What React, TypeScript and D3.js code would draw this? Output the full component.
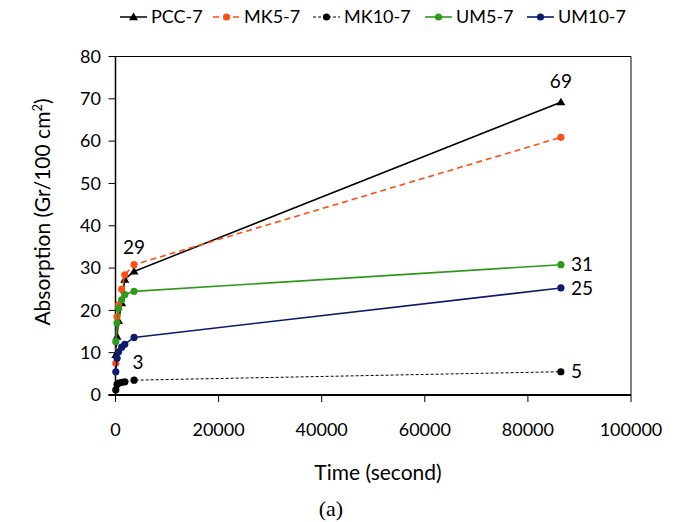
import React from "react";
import * as d3 from "d3";

const times = [60, 300, 600, 1200, 1800, 3600, 86400];
const seriesNames = ["PCC-7", "MK5-7", "MK10-7", "UM5-7", "UM10-7"];
const pcc = [9.5, 13.8, 17.5, 21.7, 27.3, 29.2, 69.2];
const mk5 = [7.5, 18.5, 21.3, 25.0, 28.4, 30.8, 60.9];
const mk10 = [1.2, 2.5, 2.8, 3.0, 3.1, 3.5, 5.5];
const um5 = [12.6, 17.0, 20.5, 22.5, 23.7, 24.5, 30.8];
const um10 = [5.5, 8.7, 10.2, 11.3, 12.0, 13.6, 25.3];
const xTicks = [0, 20000, 40000, 60000, 80000, 100000];
const yTicks = [0, 10, 20, 30, 40, 50, 60, 70, 80];
const annotations = [
  { t: 86400, v: 69.2, text: "69", dx: 0, dy: -21, anchor: "middle" },
  { t: 3600, v: 30.8, text: "29", dx: 0, dy: -17, anchor: "middle" },
  { t: 86400, v: 30.8, text: "31", dx: 10, dy: 0, anchor: "start" },
  { t: 86400, v: 25.3, text: "25", dx: 10, dy: 0, anchor: "start" },
  { t: 86400, v: 5.5, text: "5", dx: 10, dy: 0, anchor: "start" },
  { t: 3600, v: 3.5, text: "3", dx: 4, dy: -18, anchor: "middle" },
];

const styles = [
  { color: "#000000", dash: "", width: 1.5, marker: "tri" },
  { color: "#FF4E12", dash: "6,4", width: 1.6, marker: "circle" },
  { color: "#000000", dash: "3,2", width: 1, marker: "circle" },
  { color: "#2E9A1C", dash: "", width: 1.6, marker: "circle" },
  { color: "#0C1A6E", dash: "", width: 1.6, marker: "circle" },
];
const seriesValues = [pcc, mk5, mk10, um5, um10];
const legendX = [120, 213, 313, 425, 527];

const FONT = "Lato, 'Open Sans', sans-serif";

function Marker({ x, y, kind, color }: { x: number; y: number; kind: string; color: string }) {
  if (kind === "tri") {
    const s = 4.5;
    return <path d={`M${x},${y - s}L${x + s},${y + s * 0.7}L${x - s},${y + s * 0.7}Z`} fill={color} />;
  }
  return <circle cx={x} cy={y} r={3.6} fill={color} />;
}

export default function App() {
  const W = 677, H = 522;
  const x = d3.scaleLinear().domain([0, 100000]).range([115.5, 631]);
  const y = d3.scaleLinear().domain([0, 80]).range([395, 56.5]);
  const line = d3.line<number>().x((_, i) => x(times[i])).y((d) => y(d));

  return (
    <svg width={W} height={H} style={{ position: "absolute", left: 0, top: 0, background: "#fff" }}>
      {/* plot frame */}
      <line x1={x(0)} x2={x(100000)} y1={y(80)} y2={y(80)} stroke="#000" strokeWidth={1} />
      <line x1={x(100000)} x2={x(100000)} y1={y(80)} y2={y(0)} stroke="#000" strokeWidth={1} />
      {/* y axis */}
      <line x1={x(0)} x2={x(0)} y1={y(80)} y2={y(0)} stroke="#000" strokeWidth={1.5} />
      {yTicks.map((t) => (
        <g key={"y" + t}>
          <line x1={x(0) - 7} x2={x(0)} y1={y(t)} y2={y(t)} stroke="#000" strokeWidth={1} />
          <text x={101} y={y(t)} dy="0.35em" textAnchor="end" fontFamily={FONT} fontSize={18} fill="#000">
            {t}
          </text>
        </g>
      ))}
      {/* x axis */}
      <line x1={x(0) - 7} x2={x(100000)} y1={y(0)} y2={y(0)} stroke="#000" strokeWidth={2} />
      {xTicks.map((t) => (
        <g key={"x" + t}>
          <line x1={x(t)} x2={x(t)} y1={y(0)} y2={y(0) + 7} stroke="#000" strokeWidth={1} />
          <text x={x(t)} y={430} dy="0.35em" textAnchor="middle" fontFamily={FONT} fontSize={18} fill="#000">
            {t}
          </text>
        </g>
      ))}
      {/* series */}
      {seriesValues.map((vals, si) => (
        <g key={"s" + si}>
          <path d={line(vals) || ""} fill="none" stroke={styles[si].color} strokeWidth={styles[si].width} strokeDasharray={styles[si].dash} />
          {vals.map((v, i) => (
            <Marker key={i} x={x(times[i])} y={y(v)} kind={styles[si].marker} color={styles[si].color} />
          ))}
        </g>
      ))}
      {/* annotations */}
      {annotations.map((a, i) => (
        <text key={"a" + i} x={x(a.t) + a.dx} y={y(a.v) + a.dy} dy="0.35em" textAnchor={a.anchor as any} fontFamily={FONT} fontSize={19} fill="#000">
          {a.text}
        </text>
      ))}
      {/* axis titles */}
      <text x={378} y={473} dy="0.35em" textAnchor="middle" fontFamily={FONT} fontSize={21} fill="#000">
        Time (second)
      </text>
      <text transform="translate(43,212) rotate(-90)" dy="0.35em" textAnchor="middle" fontFamily={FONT} fontSize={21} fill="#000">
        Absorption (Gr/100 cm<tspan dy="-8" fontSize={13}>2</tspan><tspan dy="8">)</tspan>
      </text>
      <text x={331} y={508} dy="0.35em" textAnchor="middle" fontFamily="'Liberation Serif', 'Times New Roman', serif" fontSize={22} fill="#000">
        (a)
      </text>
      {/* legend */}
      {seriesNames.map((n, i) => (
        <g key={"l" + i}>
          <line x1={legendX[i]} x2={legendX[i] + 27} y1={17} y2={17} stroke={styles[i].color} strokeWidth={styles[i].width} strokeDasharray={styles[i].dash} />
          <Marker x={legendX[i] + 13.5} y={17} kind={styles[i].marker} color={styles[i].color} />
          <text x={legendX[i] + 31} y={17} dy="0.35em" fontFamily={FONT} fontSize={18} fill="#000">
            {n}
          </text>
        </g>
      ))}
    </svg>
  );
}
